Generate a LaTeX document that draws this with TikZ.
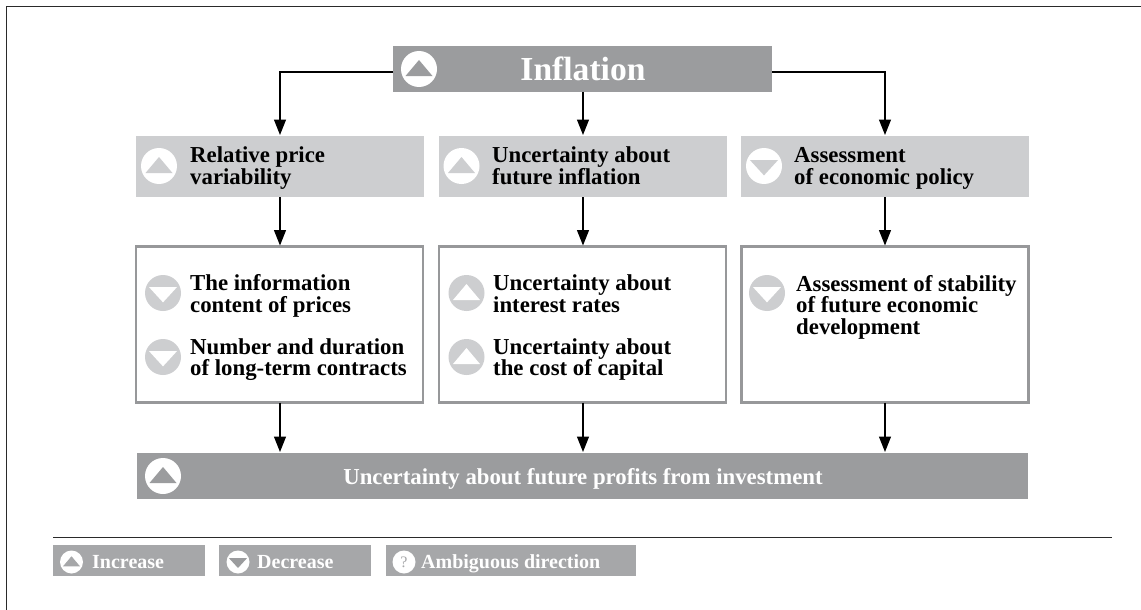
\documentclass[tikz,border=0pt]{standalone}
\usepackage{fontspec}
\setmainfont{Liberation Serif}
\usetikzlibrary{arrows.meta,calc}
\definecolor{darkbar}{HTML}{9B9C9E}
\definecolor{lightbar}{HTML}{CDCED0}
\definecolor{legendbar}{HTML}{A6A7A9}
\definecolor{frameline}{HTML}{2A2A2A}
\definecolor{boxline}{HTML}{97989A}
\newcommand{\topst}{\rule{0pt}{16pt}}
\newcommand{\tightlines}{\setlength{\lineskiplimit}{-30pt}}
\tikzset{
  barbox/.style={inner sep=0pt,outer sep=0pt,anchor=north west},
  midbox/.style={barbox,fill=lightbar,minimum width=288pt,minimum height=61pt},
  listbox/.style={barbox,draw=boxline,fill=white,line width=2.4pt,minimum width=287pt,minimum height=156pt},
  legbox/.style={barbox,fill=legendbar,minimum height=31pt},
  flow/.style={draw=black,line width=1.3pt,-{Stealth[length=15.5pt,width=12pt,inset=0pt]},shorten >=1pt},
  label/.style={inner sep=0pt,anchor=north west,align=left,font=\fontsize{22.8}{21.3}\selectfont\bfseries\tightlines,text=black},
  wlabel/.style={inner sep=0pt,anchor=base,text=white,font=\fontsize{22.8}{22}\selectfont\bfseries},
  leglabel/.style={inner sep=0pt,anchor=base west,text=white,font=\fontsize{20}{20}\selectfont\bfseries},
}
% #1 centre x, #2 centre y, #3 radius, #4 circle colour, #5 triangle colour
\newcommand{\iconup}[5]{%
  \fill[#4] (#1,#2) circle[radius=#3];
  \fill[#5] ($(#1,#2)+(-0.75*#3,0.39*#3)$) -- ($(#1,#2)+(0.75*#3,0.39*#3)$) -- ($(#1,#2)+(0,-0.5*#3)$) -- cycle;}
\newcommand{\icondown}[5]{%
  \fill[#4] (#1,#2) circle[radius=#3];
  \fill[#5] ($(#1,#2)+(-0.78*#3,-0.33*#3)$) -- ($(#1,#2)+(0.78*#3,-0.33*#3)$) -- ($(#1,#2)+(0,0.52*#3)$) -- cycle;}
\begin{document}
\begin{tikzpicture}[x=1pt,y=-1pt]
\useasboundingbox (0,0) rectangle (1141,610);
\fill[white] (0,0) rectangle (1141,610);
% frame
\draw[frameline,line width=1.4pt] (6.5,610) -- (6.5,6.5) -- (1141,6.5);
% bars
\node[barbox,fill=darkbar,minimum width=379pt,minimum height=46pt] (infl) at (393,46) {};
\node[midbox] (a1) at (136,136) {};
\node[midbox] (a2) at (439,136) {};
\node[midbox] (a3) at (741,136) {};
\node[listbox] (b1) at (136,246.5) {};
\node[listbox] (b2) at (439,246.5) {};
\node[listbox] (b3) at (741.5,246.5) {};
\node[barbox,fill=darkbar,minimum width=891pt,minimum height=46pt] (bot) at (137,453) {};
% connectors
\coordinate (il) at ($(infl.west)+(0,3)$);
\coordinate (ir) at ($(infl.east)+(0,3)$);
\draw[flow] (il) -| (a1.north);
\draw[flow] (infl.south -| a2.north) -- (a2.north);
\draw[flow] (ir) -| (a3.north);
\draw[flow] (a1.south) -- (a1.south |- b1.north);
\draw[flow] (a2.south) -- (a2.south |- b2.north);
\draw[flow] (a3.south) -- (a3.south |- b3.north);
\draw[flow] (a1.south |- b1.south) -- (a1.south |- bot.north);
\draw[flow] (a2.south |- b2.south) -- (a2.south |- bot.north);
\draw[flow] (a3.south |- b3.south) -- (a3.south |- bot.north);
% icons
\iconup{419}{69}{18}{white}{darkbar}
\iconup{159}{166}{18}{white}{lightbar}
\iconup{461.5}{166}{18}{white}{lightbar}
\icondown{764}{166}{18}{white}{lightbar}
\icondown{163}{293}{18}{lightbar}{white}
\icondown{163}{357}{18}{lightbar}{white}
\iconup{466.5}{293}{18}{lightbar}{white}
\iconup{466.5}{357}{18}{lightbar}{white}
\icondown{767}{293}{18}{lightbar}{white}
\iconup{163}{476}{18}{white}{darkbar}
% texts
\node[wlabel,font=\fontsize{33.6}{34}\selectfont\bfseries] (tinfl) at (583,81) {Inflation};
\node[label] (t1) at (190,146.7) {\topst{}Relative price\\variability};
\node[label] (t2) at (492,146.7) {\topst{}Uncertainty about\\future inflation};
\node[label] (t3) at (794,146.7) {\topst{}Assessment\\of economic policy};
\node[label] (t4) at (190,274.7) {\topst{}The information\\content of prices};
\node[label] (t5) at (190,338) {\topst{}Number and duration\\of long-term contracts};
\node[label] (t6) at (493,274.7) {\topst{}Uncertainty about\\interest rates};
\node[label] (t7) at (493,338) {\topst{}Uncertainty about\\the cost of capital};
\node[label] (t8) at (796,275.2) {\topst{}Assessment of stability\\of future economic\\development};
\node[wlabel] (t9) at (583,484) {Uncertainty about future profits from investment};
% legend
\draw[frameline,line width=1.1pt] (53,537.5) -- (1112,537.5);
\node[legbox,minimum width=152pt] (l1) at (53,545) {};
\node[legbox,minimum width=152pt] (l2) at (219,545) {};
\node[legbox,minimum width=250pt] (l3) at (386,545) {};
\iconup{71.5}{562}{11.5}{white}{legendbar}
\icondown{238}{562}{11.5}{white}{darkbar}
\fill[white] (404,562) circle[radius=11.5];
\node[leglabel,anchor=center,text=legendbar,font=\fontsize{16}{16}\selectfont] (q) at (404,562) {?};
\node[leglabel] (lt1) at (92,568) {Increase};
\node[leglabel] (lt2) at (257,568) {Decrease};
\node[leglabel] (lt3) at (421,568) {Ambiguous direction};
\end{tikzpicture}
\end{document}
